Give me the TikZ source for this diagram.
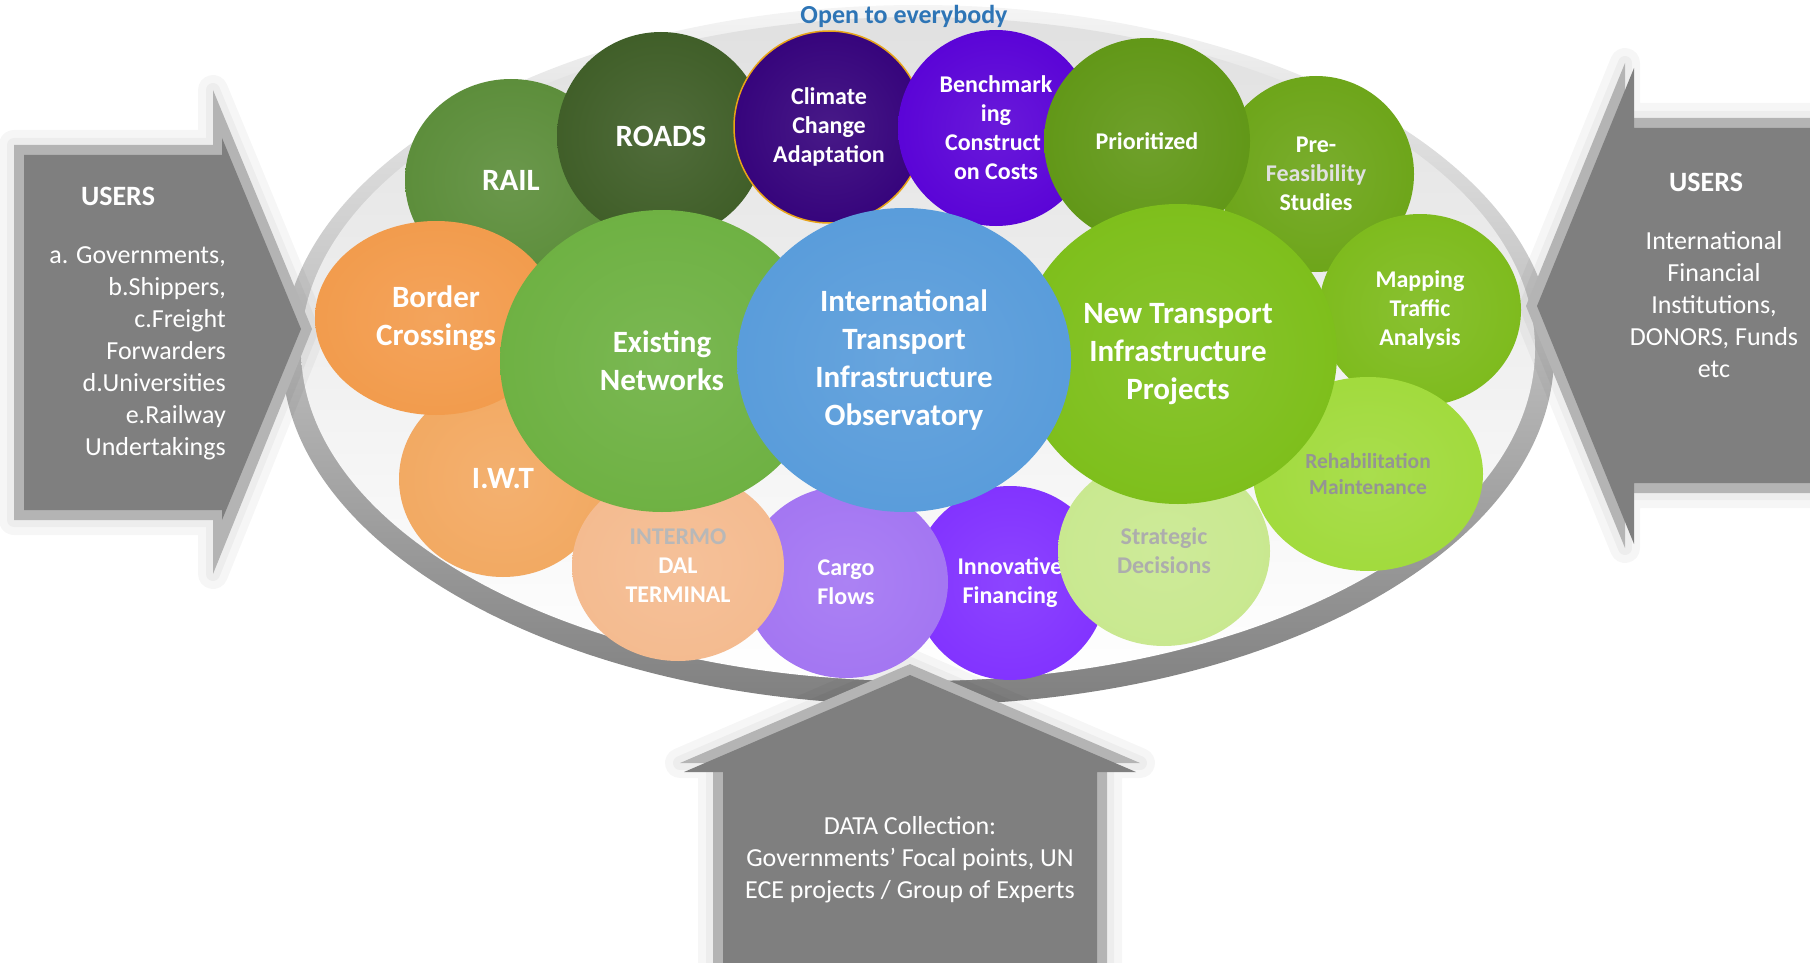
\documentclass[tikz,border=0pt]{standalone}
\usepackage{fontspec}
\setmainfont{Carlito}
\usetikzlibrary{shapes.geometric}

\definecolor{facegray}{HTML}{7F7F7F}
\definecolor{bevelgray}{HTML}{B4B4B4}
\definecolor{openblue}{HTML}{2E75B6}
\definecolor{railc}{HTML}{5A8C38}
\definecolor{railr}{HTML}{6EA646}
\definecolor{roadc}{HTML}{3D5C25}
\definecolor{roadr}{HTML}{4A6E2E}
\definecolor{climc}{HTML}{33007A}
\definecolor{climr}{HTML}{3A0086}
\definecolor{climline}{HTML}{E8A317}
\definecolor{benchc}{HTML}{5800D6}
\definecolor{benchr}{HTML}{6410E2}
\definecolor{prioc}{HTML}{5F9614}
\definecolor{prior}{HTML}{84C424}
\definecolor{prefc}{HTML}{6BA416}
\definecolor{prefr}{HTML}{92D22E}
\definecolor{mapc}{HTML}{7CBA1A}
\definecolor{mapr}{HTML}{A8E83A}
\definecolor{rehabc}{HTML}{A0DA3A}
\definecolor{rehabr}{HTML}{E2F24C}
\definecolor{stratc}{HTML}{C8E88E}
\definecolor{stratr}{HTML}{F4F8B4}
\definecolor{innovc}{HTML}{8030FF}
\definecolor{innovr}{HTML}{8A3EFF}
\definecolor{cargoc}{HTML}{A274F2}
\definecolor{cargor}{HTML}{9A68E6}
\definecolor{intermc}{HTML}{F4BA8E}
\definecolor{intermr}{HTML}{FFF0B8}
\definecolor{iwtc}{HTML}{F2A860}
\definecolor{iwtr}{HTML}{FFD878}
\definecolor{borderc}{HTML}{F29A4A}
\definecolor{borderr}{HTML}{F8D060}
\definecolor{existc}{HTML}{6CB040}
\definecolor{existr}{HTML}{92E052}
\definecolor{obsc}{HTML}{579BDA}
\definecolor{obsr}{HTML}{7ACEFF}
\definecolor{ntc}{HTML}{7CBE18}
\definecolor{ntr}{HTML}{ACF030}

\colorlet{bubbase}{gray}
\colorlet{bubrim}{gray}
\pgfdeclareradialshading[bubbase,bubrim]{orb}{\pgfpoint{0bp}{0bp}}{%
    color(0bp)=(bubbase!90!white);
    color(30bp)=(bubbase);
    color(42bp)=(bubbase!88!black);
    color(47bp)=(bubrim);
    color(50bp)=(bubrim)}

\tikzset{
    bubble/.style = {ellipse,
                    inner sep=0pt,
                    text=white,
                    align=center,
                    font=\bfseries\fontsize{24}{29}\selectfont},
    bigtext/.style = {font=\bfseries\fontsize{31}{38}\selectfont},
    tint/.style 2 args = {/utils/exec={\colorlet{bubbase}{#1}\colorlet{bubrim}{#2}},
                    shade,
                    shading=orb},
    bsize/.style 2 args = {minimum width=#1pt,
                    minimum height=#2pt},
    glow/.style =   {draw=black,
                    line join=round,
                    line width=30pt,
                    opacity=0.035},
    bevel/.style =  {fill=bevelgray},
    face/.style =   {fill=facegray},
    info/.style =   {text=white,
                    inner sep=0pt,
                    align=center,
                    font=\fontsize{26}{32}\selectfont},
    boxtitle/.style = {text=white,
                    font=\bfseries\fontsize{28}{34}\selectfont}
}

\begin{document}
\begin{tikzpicture}[x=1pt,y=-1pt]
    \useasboundingbox (0,0) rectangle (1810,963);

    % the plate
    \shade[top color=white!96!black, bottom color=white!50!black] (918,355) ellipse [x radius=636, y radius=350];
    \shade[top color=white!88!black, bottom color=white] (918,349) ellipse [x radius=617, y radius=332];

    % left arrow
    \draw[glow] (14,145) -- (213,145) -- (213,90) -- (312,329) -- (213,574) -- (213,520) -- (14,520) -- cycle;
    \draw[glow, line width=14pt] (14,145) -- (213,145) -- (213,90) -- (312,329) -- (213,574) -- (213,520) -- (14,520) -- cycle;
    \fill[bevel] (14,145) -- (213,145) -- (213,90) -- (312,329) -- (213,574) -- (213,520) -- (14,520) -- cycle;
    \fill[face] (24,155) -- (222,155) -- (222,138) -- (301,329) -- (222,520) -- (222,510) -- (24,510) -- cycle;

    % right arrow
    \draw[glow] (1810,118) -- (1625,118) -- (1625,63) -- (1526,306) -- (1625,548) -- (1625,493) -- (1810,493) -- cycle;
    \draw[glow, line width=14pt] (1810,118) -- (1625,118) -- (1625,63) -- (1526,306) -- (1625,548) -- (1625,493) -- (1810,493) -- cycle;
    \fill[bevel] (1810,118) -- (1625,118) -- (1625,63) -- (1526,306) -- (1625,548) -- (1625,493) -- (1810,493) -- cycle;
    \fill[face] (1810,128) -- (1634,128) -- (1634,68) -- (1537,306) -- (1634,544) -- (1634,483) -- (1810,483) -- cycle;

    % bottom arrow
    \draw[glow] (713,963) -- (713,763) -- (680,763) -- (910,664) -- (1140,763) -- (1107,763) -- (1107,963) -- cycle;
    \draw[glow, line width=14pt] (713,963) -- (713,763) -- (680,763) -- (910,664) -- (1140,763) -- (1107,763) -- (1107,963) -- cycle;
    \fill[bevel] (713,963) -- (713,763) -- (680,763) -- (910,664) -- (1140,763) -- (1107,763) -- (1107,963) -- cycle;
    \fill[face] (723,963) -- (723,772) -- (684,772) -- (910,675) -- (1136,772) -- (1097,772) -- (1097,963) -- cycle;

    \node[boxtitle] (usersl) at (118,196) {USERS};
    \node[info, align=right, anchor=east] (listl) at (226,353) {a. Governments,\\b.Shippers,\\c.Freight\\Forwarders\\d.Universities\\e.Railway\\Undertakings};
    \node[boxtitle] (usersr) at (1706,182) {USERS};
    \node[info] (listr) at (1714,305) {International\\Financial\\Institutions,\\DONORS, Funds\\etc};
    \node[info] (data) at (910,860) {DATA Collection:\\Governments’ Focal points, UN\\ECE projects / Group of Experts};

    % bubbles, back to front
    \node[bubble, bigtext, tint={railc}{railr}, bsize={212}{202}]       (rail)   at (511,180)  {RAIL};
    \node[bubble, bigtext, tint={roadc}{roadr}, bsize={208}{208}]       (roads)  at (661,136)  {ROADS};
    \node[bubble, tint={climc}{climr}, bsize={190}{192}, draw=climline, line width=1.5pt] (climate) at (829,127) {Climate\\Change\\Adaptation};
    \node[bubble, tint={benchc}{benchr}, bsize={196}{196}]              (bench)  at (996,128)  {Benchmark\\ing\\Construct\phantom{i}\\on Costs};
    \node[bubble, tint={prefc}{prefr}, bsize={196}{196}]                (prefeas) at (1316,174) {Pre-\\{\color{white!88!black}Feasibility}\\Studies};
    \node[bubble, tint={prioc}{prior}, bsize={206}{206}]                (prio)   at (1147,141) {Prioritized};
    \node[bubble, tint={mapc}{mapr}, bsize={202}{192}]                  (mapping) at (1420,310) {Mapping\\Traffic\\Analysis};
    \node[bubble, tint={rehabc}{rehabr}, bsize={230}{194}, text=white!58!black, font=\bfseries\fontsize{21.5}{26.5}\selectfont] (rehab) at (1368,474) {Rehabilitation\\Maintenance};
    \node[bubble, tint={innovc}{innovr}, bsize={194}{194}]              (innov)  at (1010,583) {Innovative\\Financing};
    \node[bubble, tint={cargoc}{cargor}, bsize={204}{192}]              (cargo)  at (846,582)  {Cargo\\Flows};
    \node[bubble, tint={stratc}{stratr}, bsize={212}{190}, text=white!68!black] (strat) at (1164,551) {Strategic\\Decisions};
    \node[bubble, bigtext, tint={iwtc}{iwtr}, bsize={208}{196}]         (iwt)    at (503,479)  {I.W.T};
    \node[bubble, bigtext, tint={borderc}{borderr}, bsize={242}{194}]   (border) at (436,318)  {Border\\Crossings};
    \node[bubble, tint={intermc}{intermr}, bsize={212}{190}]            (interm) at (678,566)  {{\color{white!72!black}INTERMO}\\DAL\\TERMINAL};
    \node[bubble, bigtext, tint={existc}{existr}, bsize={324}{302}]     (exist)  at (662,361)  {Existing\\Networks};
    \node[bubble, bigtext, tint={ntc}{ntr}, bsize={318}{300}]           (newtp)  at (1178,354) {New Transport\\Infrastructure\\Projects};
    \node[bubble, bigtext, tint={obsc}{obsr}, bsize={334}{304}]         (obs)    at (904,360)  {International\\Transport\\Infrastructure\\Observatory};

    \node[text=openblue, font=\bfseries\fontsize{26}{31}\selectfont] (open) at (904,16) {Open to everybody};
\end{tikzpicture}
\end{document}
